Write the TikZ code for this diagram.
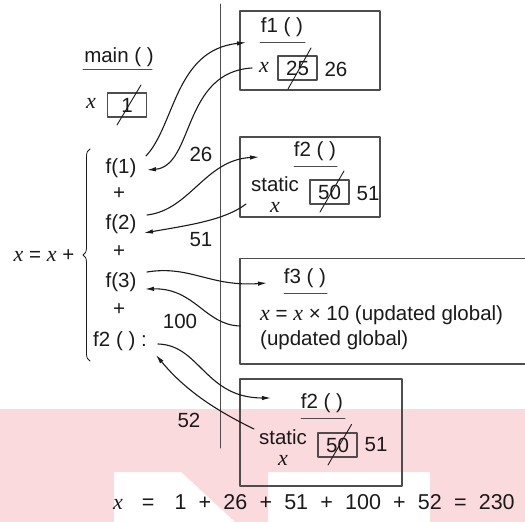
\documentclass[tikz,border=0pt]{standalone}
\usepackage{fontspec}
\setmainfont{Liberation Sans}
\newfontfamily\xserif{Liberation Serif}
\usetikzlibrary{arrows.meta,decorations.pathreplacing}
\definecolor{wmPink}{HTML}{FADADD}
\definecolor{frameGray}{HTML}{4D4D4D}
\definecolor{inkBlack}{HTML}{1A1A1A}
\newcommand{\vx}{{\xserif\itshape\fontsize{22}{24}\selectfont x}}
\newcommand{\gp}{\hspace{12.2pt}}

\begin{document}
\begin{tikzpicture}[x=1pt,y=-1pt,>={Latex[length=9pt,width=4.5pt]},line cap=round,line join=round]
\useasboundingbox (0,0) rectangle (525,522);
\path[fill=white] (0,0) rectangle (525,522);
\path[fill=wmPink] (0,409) rectangle (525,522);
\path[fill=white] (114,472) -- (181,472) -- (235,522) -- (114,522) -- cycle;
\path[fill=white] (268,472) rectangle (430,522);
\tikzset{lbl/.style={font=\fontsize{20.5}{23}\selectfont,text=inkBlack,inner sep=1pt},frame/.style={draw=frameGray,line width=1.2pt},cell/.style={draw=frameGray,line width=1.1pt,minimum width=39pt,minimum height=24pt,inner sep=0pt,text=inkBlack,font=\fontsize{20.5}{23}\selectfont},strike/.style={draw=inkBlack,line width=0.9pt},uline/.style={draw=frameGray,line width=1pt},call/.style={draw=inkBlack,line width=1.1pt,->}}
\node[lbl] (mainhd) at (119,57) {main ( )};
\draw[uline] (83,69.5) -- (152,69.5);
\node[lbl] (mainx) at (91,103) {\vx};
\node[cell] (mainval) at (127,105) {1};
\draw[strike] (117,125) -- (141,85);
\draw[decorate,decoration={brace,amplitude=7pt},draw=inkBlack,line width=0.8pt] (90,361) -- (90,149);
\node[lbl] (lhs) at (44,256) {\vx{} = \vx{} +};
\node[lbl] (callA) at (121,168) {f(1)};
\node[lbl] (plusA) at (119,194) {+};
\node[lbl] (callB) at (121,224) {f(2)};
\node[lbl] (plusB) at (119,252) {+};
\node[lbl] (callC) at (121,282) {f(3)};
\node[lbl] (plusC) at (119,310) {+};
\node[lbl] (callD) at (120,341) {f2 ( ) :};
\draw[frame,line width=1pt] (220,4) -- (220,448);
\draw[frame] (240,11) rectangle (380,90);
\node[lbl] (hdA) at (282,27) {f1 ( )};
\draw[uline] (260,42.5) -- (305,42.5);
\node[lbl] (fAx) at (264,67) {\vx};
\node[cell] (fAval) at (297.5,68) {25};
\draw[strike] (288,89) -- (311,48);
\node[lbl] (fAnew) at (336,69) {26};
\draw[frame] (240,137) rectangle (380,217);
\node[lbl] (hdB) at (315,151) {f2 ( )};
\draw[uline] (294,166) -- (337,166);
\node[lbl] (fBst) at (275,184) {static};
\node[lbl] (fBx) at (275,207) {\vx};
\node[cell] (fBval) at (329.5,192) {50};
\draw[strike] (320,212) -- (344,171);
\node[lbl] (fBnew) at (368,193.5) {51};
\draw[frame] (525,258.5) -- (240,258.5) -- (240,364) -- (525,364);
\node[lbl] (hdC) at (305,278) {f3 ( )};
\draw[uline] (284,293) -- (327,293);
\node[lbl,anchor=west] (fCline) at (259,315) {\vx{} = \vx{} × 10 (updated global)};
\node[lbl,anchor=west] (fCnote) at (259,340) {(updated global)};
\draw[frame] (240,379) rectangle (402,486);
\node[lbl] (hdD) at (322,403) {f2 ( )};
\draw[uline] (301,418.5) -- (345,418.5);
\node[lbl] (fDst) at (283,437) {static};
\node[lbl] (fDx) at (283,460) {\vx};
\node[cell] (fDval) at (337.5,445) {50};
\draw[strike] (328,465) -- (351.5,424.5);
\node[lbl] (fDnew) at (376,445) {51};
\node[lbl] (retA) at (201,154) {26};
\node[lbl] (retB) at (201,240) {51};
\node[lbl] (retC) at (180,321) {100};
\node[lbl] (retD) at (189,420) {52};
\node[lbl,anchor=west,font=\fontsize{21.5}{24}\selectfont] (total) at (112,502) {\vx\hspace{19pt}=\hspace{20pt}1\gp+\gp26\gp+\gp51\gp+\gp100\gp+\gp52\gp=\gp230};
\coordinate (outA) at (146,156); \coordinate (inA) at (246,42.5);
\coordinate (backA) at (252,68); \coordinate (tipA) at (147,170);
\coordinate (outB) at (147,215); \coordinate (inB) at (259,157);
\coordinate (backB) at (246,204); \coordinate (tipB) at (144,233);
\coordinate (outC) at (147,272); \coordinate (inC) at (267,283);
\coordinate (backC) at (240,326); \coordinate (tipC) at (145,289);
\coordinate (outD) at (158,344); \coordinate (inD) at (271,398);
\coordinate (backD) at (254,429); \coordinate (tipD) at (156,355);
\draw[call] (outA) .. controls (175,125) and (175,50) .. (inA);
\draw[call] (backA) .. controls (182,72) and (194,166) .. (tipA);
\draw[call] (outB) .. controls (190,210) and (205,160) .. (inB);
\draw[call] (backB) .. controls (225,220) and (190,225) .. (tipB);
\draw[call] (outC) .. controls (190,265) and (210,287) .. (inC);
\draw[call] (backC) .. controls (205,325) and (195,288) .. (tipC);
\draw[call] (outD) .. controls (200,345) and (205,398) .. (inD);
\draw[call] (backD) .. controls (215,410) and (185,390) .. (tipD);
\end{tikzpicture}
\end{document}
